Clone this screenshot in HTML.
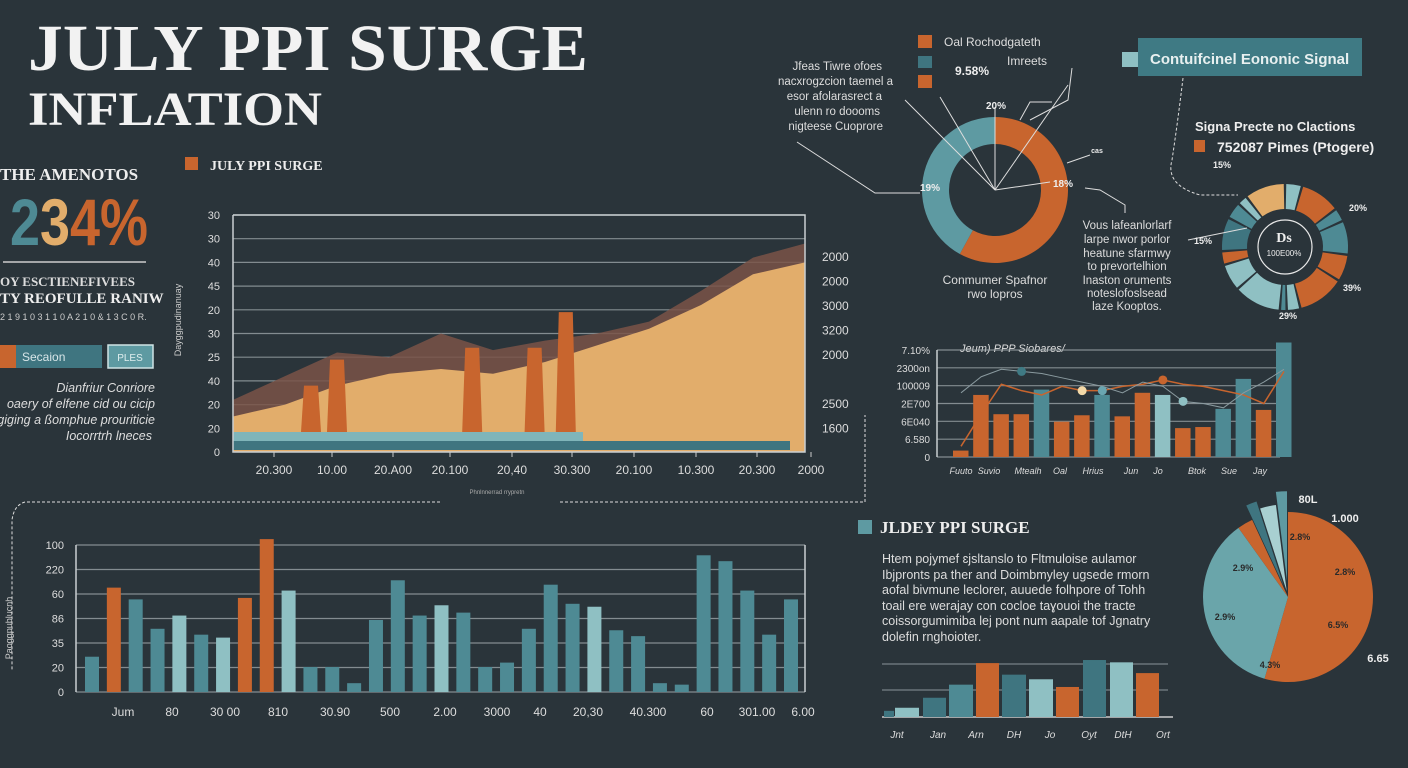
<!DOCTYPE html>
<html><head><meta charset="utf-8"><style>
html,body{margin:0;padding:0;background:#2a343a;width:1408px;height:768px;overflow:hidden}
svg{display:block}
.serif{font-family:"Liberation Serif",serif;font-weight:bold}
.sans{font-family:"Liberation Sans",sans-serif}
</style></head><body>
<svg id="s" width="1408" height="768" viewBox="0 0 1408 768" xmlns="http://www.w3.org/2000/svg">
<rect width="1408" height="768" fill="#2a343a"/>
<g>
<text x="28" y="70" class="serif" font-size="66" fill="#f2f2f2" textLength="560" lengthAdjust="spacingAndGlyphs">JULY PPI SURGE</text>
<text x="28" y="125" class="serif" font-size="48" fill="#f2f2f2" textLength="294" lengthAdjust="spacingAndGlyphs">INFLATION</text>
</g>
<g>
<text x="0" y="180" class="serif" font-size="17" fill="#eee">THE AMENOTOS</text>
<text x="10" y="245" class="sans" font-size="66" font-weight="bold" textLength="138" lengthAdjust="spacingAndGlyphs"><tspan fill="#4e8a94">2</tspan><tspan fill="#e2ad6b">3</tspan><tspan fill="#c8652e">4%</tspan></text>
<line x1="3" y1="262" x2="146" y2="262" stroke="#ccc" stroke-width="1.5"/>
<text x="0" y="286" class="serif" font-size="13" font-weight="normal" fill="#ddd">OY ESCTIENEFIVEES</text>
<text x="0" y="303" class="serif" font-size="15" fill="#eee">TY REOFULLE RANIW</text>
<text x="0" y="320" class="sans" font-size="9" fill="#ccc">2 1 9 1 0 3  1 1 0 A 2 1  0 & 1 3 C  0 R.</text>
<rect x="0" y="345" width="16" height="23" fill="#c8652e"/>
<rect x="16" y="345" width="86" height="23" fill="#3f7580"/>
<text x="22" y="361" class="sans" font-size="12" fill="#d8e6e8">Secaion</text>
<rect x="108" y="345" width="45" height="23" fill="#5e9aa2" stroke="#cfe3e4" stroke-width="1.5"/>
<text x="130" y="361" class="sans" font-size="10" fill="#dfeeee" text-anchor="middle">PLES</text>
<g class="sans" font-size="12.5" font-style="italic" fill="#ddd" text-anchor="end">
<text x="155" y="392">Dianfriur Conriore</text>
<text x="155" y="408">oaery of elfene cid ou cicip</text>
<text x="155" y="424">Agiging a ßomphue prouriticie</text>
<text x="152" y="440">Iocorrtrh lneces</text>
</g>
</g>
<g id="area">
<rect x="185" y="157" width="13" height="13" fill="#c8652e"/>
<text x="210" y="170" class="serif" font-size="14" fill="#eee">JULY PPI SURGE</text>
<text transform="translate(181,320) rotate(-90)" text-anchor="middle" class="sans" font-size="9" fill="#ccc">Dayggpudinanuay</text>
<text x="497" y="494" text-anchor="middle" class="sans" font-size="6" fill="#aaa">Phnlnnerrad rrypretn</text>
</g>
<g id="bars">
<text transform="translate(12,628) rotate(-90)" text-anchor="middle" class="sans" font-size="9" fill="#ccc">Paoggpublucnh</text>
</g>
<g fill="none" stroke="#ddd" stroke-width="1" stroke-dasharray="3,2">
<path d="M440,502 H25 Q14,505 12,520 V670"/>
<path d="M560,502 H865 V415"/>
<path d="M1183,78 Q1178,120 1172,160 Q1165,185 1200,195 H1238"/>
</g>
<g id="donut1">
<rect x="918" y="35" width="14" height="13" fill="#c8652e"/>
<text x="944" y="46" class="sans" font-size="12" fill="#ddd">Oal Rochodgateth</text>
<rect x="918" y="56" width="14" height="12" fill="#3f7580"/>
<text x="1007" y="65" class="sans" font-size="12" fill="#ddd">Imreets</text>
<rect x="918" y="75" width="14" height="13" fill="#c8652e"/>
<text x="955" y="75" class="sans" font-size="12" font-weight="bold" fill="#eee">9.58%</text>
<g class="sans" font-size="11.5" fill="#ddd" text-anchor="end">
<text x="882" y="70">Jfeas Tiwre ofoes</text>
<text x="893" y="85">nacxrogzcion taemel a</text>
<text x="882" y="100">esor afolarasrect a</text>
<text x="880" y="115">ulenn  ro doooms</text>
<text x="883" y="130">nigteese Cuoprore</text>
</g>
<text x="995" y="284" text-anchor="middle" class="sans" font-size="12" fill="#ddd">Conmumer Spafnor</text>
<text x="995" y="298" text-anchor="middle" class="sans" font-size="12" fill="#ddd">rwo lopros</text>
<g class="sans" font-size="11.5" fill="#ddd" text-anchor="middle">
<text x="1127" y="229">Vous lafeanlorlarf</text><text x="1127" y="243">larpe nwor porlor</text><text x="1127" y="257">heatune sfarmwy</text><text x="1127" y="270">to prevortelhion</text><text x="1127" y="284">Inaston oruments</text><text x="1127" y="297">noteslofoslsead</text><text x="1127" y="310">laze Kooptos.</text>
</g>
</g>
<g>
<rect x="1122" y="52" width="16" height="15" fill="#8fc0c3"/>
<rect x="1138" y="38" width="224" height="38" fill="#3f7a84"/>
<text x="1150" y="64" class="sans" font-size="15" font-weight="bold" fill="#e8f0f0">Contuifcinel Eononic Signal</text>
<text x="1195" y="131" class="sans" font-size="13" font-weight="bold" fill="#eee">Signa Precte no Clactions</text>
<rect x="1194" y="140" width="11" height="12" fill="#c8652e"/>
<text x="1217" y="152" class="sans" font-size="14" font-weight="bold" fill="#eee">752087 Pimes (Ptogere)</text>
</g>
<g id="donut2"></g>
<g id="bars2">
<text x="960" y="352" class="sans" font-size="11" font-style="italic" fill="#ddd">Jeum) PPP Siobares/</text>
</g>
<g>
<rect x="858" y="520" width="14" height="14" fill="#5e9aa2"/>
<text x="880" y="533" class="serif" font-size="17" fill="#eee">JLDEY PPI SURGE</text>
<g class="sans" font-size="12.5" fill="#ddd">
<text x="882" y="563">Htem pojymef ɛjsltanslo to Fltmuloise aulamor</text>
<text x="882" y="579">Ibjpronts pa ther and  Doimbmyley  ugsede rmorn</text>
<text x="882" y="594">aofal bivmune leclorer, auuede folhpore of Tohh</text>
<text x="882" y="610">toail ere werajay  con  cocloe  taɣouoi the tracte</text>
<text x="882" y="625">coissorgumimiba lej pont num aapale tof Jgnatry</text>
<text x="882" y="641">dolefin rnghoioter.</text>
</g>
</g>
<g id="bars3"></g>
<g id="pie"></g>
</svg>
<script>
// ===== Area chart data =====
const areaYTicks = ["30","30","40","45","20","30","25","40","20","20","0"];
const areaXLabels = ["20.300","10.00","20.A00","20.100","20,40","30.300","20.100","10.300","20.300","2000"];
const areaRightLabels = ["2000","2000","3000","3200","2000","","2500","1600"];
const sandValues = [15,20,28,33,35,33,38,45,52,62,75,80];
const brownValues = [22,32,42,40,50,43,47,50,55,68,82,88];
const spikeCategories = [1.5,2.0,4.6,5.8,6.4];
const spikeValues = [28,39,44,44,59];
// ===== Bottom bar chart data =====
const bottomBarValues = [24,71,63,43,52,39,37,64,104,69,17,17,6,49,76,52,59,54,17,20,43,73,60,58,42,38,6,5,93,89,69,39,63];
const bottomBarTypes = ["t","o","t","t","l","t","l","o","o","l","t","t","t","t","t","t","l","t","t","t","t","t","t","l","t","t","t","t","t","t","t","t","t"];
const bottomYTicks = ["0","20","35","86","60","220","100"];
const bottomXLabels = ["Jum","80","30 00","810","30.90","500","2.00","3000","40","20,30","40.300","60","301.00","6.00"];
// ===== Monthly bar chart data =====
const monthlyValues = [6,58,40,40,63,33,39,58,38,60,58,27,28,45,73,44,107];
const monthlyTypes = ["o","o","o","o","t","o","o","t","o","o","l","o","o","t","t","o","t"];
const monthlyLineA = [10,40,68,62,58,66,62,62,66,68,72,68,66,62,58,50,80];
const monthlyLineB = [60,75,82,80,78,74,70,66,60,70,66,52,50,46,60,70,82];
const monthlyYTicks = ["0","6.580","6E040","2E700","100009","2300on","7.10%"];
const monthlyXLabels = ["Fuuto","Suvio","Mtealh","Oal","Hrius","Jun","Jo","Btok","Sue","Jay"];
// ===== Small bar chart data =====
const smallValues = [8,12,25,42,70,55,49,39,74,71,57];
const smallTypes = ["d","l","d","t","o","d","l","o","d","l","o"];
const smallXLabels = ["Jnt","Jan","Arn","DH","Jo","Oyt","DtH","Ort"];
// ===== Donut / pie data =====
const donut1Values = [58,42];
const donut2Values = [5,12,4,10,8,14,4,2,14,8,4,10,5,3,12];
const donut2Types = ["l","o","t","t","o","o","l","t","l","l","o","d","t","l","s"];
const pieValues = [55,36,3,2,3,2];
const pieLabels = ["2.8%","2.9%","2.8%","2.9%","6.5%","4.3%"];

const NS="http://www.w3.org/2000/svg";
const C={o:"#c8652e",t:"#4e8a94",l:"#8fc0c3",d:"#3f7580",s:"#e2ad6b"};
function mk(parent,tag,attrs,txt){const e=document.createElementNS(NS,tag);for(const k in attrs)e.setAttribute(k,attrs[k]);if(txt!==undefined)e.textContent=txt;parent.appendChild(e);return e;}

// ---- Area chart ----
(function(){
const g=document.getElementById('area');
const x0=233,x1=805,y0=452,y1=215;
const ys=v=>y0-(y0-y1)*v/100;
const xs=i=>x0+(x1-x0)*i/(sandValues.length-1);
const gl=mk(g,'g',{});


areaYTicks.forEach((t,i)=>{const y=y1+(y0-y1)*i/(areaYTicks.length-1);
 if(i<areaYTicks.length-1)mk(gl,'line',{x1:x0,x2:x1,y1:y,y2:y,stroke:'#9aa3a6','stroke-width':1.2,opacity:0.8});
 const tx=mk(g,'text',{x:220,y:y+4,'text-anchor':'end','font-family':'Liberation Sans,sans-serif','font-size':11,fill:'#ddd'},t);
 
 });
const pts=(arr)=>arr.map((v,i)=>xs(i)+','+ys(v)).join(' ');
const brown=mk(g,'polygon',{points:x0+','+y0+' '+pts(brownValues)+' '+x1+','+y0,fill:'#7a5448',opacity:0.85});


const sand=mk(g,'polygon',{points:x0+','+y0+' '+pts(sandValues)+' '+x1+','+y0,fill:'#e2ad6b'});


const t1=mk(g,'rect',{x:x0,y:432,width:350,height:10,fill:'#7fb5ba'});


const t2=mk(g,'rect',{x:x0,y:441,width:557,height:9,fill:'#3f7580'});


spikeCategories.forEach((c,i)=>{const cx=xs(c),top=ys(spikeValues[i]);
 const p=mk(g,'polygon',{points:(cx-10)+',432 '+(cx-7)+','+top+' '+(cx+7)+','+top+' '+(cx+10)+',432',fill:'#c8652e'});
 
 });
mk(g,'polyline',{points:x0+','+y1+' '+x0+','+y0+' '+x1+','+y0+' '+x1+','+y1+' '+x0+','+y1,fill:'none',stroke:'#c9cfd1','stroke-width':1.5});
const lxs=[274,332,393,450,512,572,634,696,757,811];
areaXLabels.forEach((t,i)=>{mk(g,'line',{x1:lxs[i],x2:lxs[i],y1:y0,y2:y0+5,stroke:'#ccc'});
 const tx=mk(g,'text',{x:lxs[i],y:474,'text-anchor':'middle','font-family':'Liberation Sans,sans-serif','font-size':12,fill:'#ddd'},t);
 
 });
areaRightLabels.forEach((t,i)=>{if(!t)return;const tx=mk(g,'text',{x:822,y:261+i*24.5,'font-family':'Liberation Sans,sans-serif','font-size':12,fill:'#ddd'},t);
 
 });
})();

// ---- Bottom bar chart ----
(function(){
const g=document.getElementById('bars');
const x0=76,x1=805,y0=692,y1=545;
const ys=v=>y0-(y0-y1)*v/100;
bottomYTicks.forEach((t,i)=>{const y=y0-(y0-y1)*i/(bottomYTicks.length-1);
 mk(g,'line',{x1:x0,x2:x1,y1:y,y2:y,stroke:'#9aa3a6','stroke-width':1.2,opacity:0.8});
 const tx=mk(g,'text',{x:64,y:y+4,'text-anchor':'end','font-family':'Liberation Sans,sans-serif','font-size':11,fill:'#ddd'},t);
 
 });
mk(g,'line',{x1:x0,x2:x0,y1:y1,y2:y0,stroke:'#c9cfd1','stroke-width':1.5});
mk(g,'line',{x1:x1,x2:x1,y1:y1,y2:y0,stroke:'#c9cfd1','stroke-width':1.5});
const step=(784-85)/(bottomBarValues.length-1);
bottomBarValues.forEach((v,i)=>{const x=85+i*step;const top=ys(v);
 const r=mk(g,'rect',{x:x,y:top,width:14,height:y0-top,fill:C[bottomBarTypes[i]]});
 
 });
const lx=[123,172,225,278,335,390,445,497,540,588,648,707,757,803];
bottomXLabels.forEach((t,i)=>{const tx=mk(g,'text',{x:lx[i],y:716,'text-anchor':'middle','font-family':'Liberation Sans,sans-serif','font-size':12,fill:'#ddd'},t);
 
 });
})();

// ---- Monthly bar chart ----
(function(){
const g=document.getElementById('bars2');
const x0=937,x1=1280,y0=457,y1=350;
const ys=v=>y0-(y0-y1)*v/100;
monthlyYTicks.forEach((t,i)=>{const y=y0-(y0-y1)*i/(monthlyYTicks.length-1);
 mk(g,'line',{x1:x0,x2:x1,y1:y,y2:y,stroke:'#9aa3a6','stroke-width':1.2,opacity:0.8});
 const tx=mk(g,'text',{x:930,y:y+4,'text-anchor':'end','font-family':'Liberation Sans,sans-serif','font-size':10,fill:'#ddd'},t);
 
 });
mk(g,'line',{x1:x0,x2:x0,y1:y1,y2:y0,stroke:'#c9cfd1','stroke-width':1.5});
const step=(1276-953)/(monthlyValues.length-1);
const cx=i=>953+i*step+8;
monthlyValues.forEach((v,i)=>{const top=Math.max(ys(v),340);
 const r=mk(g,'rect',{x:953+i*step,y:top,width:15.5,height:y0-top,fill:C[monthlyTypes[i]]});
 
 });
const la=mk(g,'polyline',{points:monthlyLineA.map((v,i)=>cx(i)+','+ys(v)).join(' '),fill:'none',stroke:'#c8652e','stroke-width':1.5});


const lb=mk(g,'polyline',{points:monthlyLineB.map((v,i)=>cx(i)+','+ys(v)).join(' '),fill:'none',stroke:'#8a9a9f','stroke-width':1});


[[3,monthlyLineB,'#3f7a84'],[6,monthlyLineA,'#f3d9a8'],[7,monthlyLineA,'#6aa5b0'],[10,monthlyLineA,'#c8652e'],[11,monthlyLineB,'#8fc0c3']].forEach(d=>{
 const c=mk(g,'circle',{cx:cx(d[0]),cy:ys(d[1][d[0]]),r:4.5,fill:d[2]});
 
 });
const lx=[961,989,1028,1060,1093,1131,1158,1197,1229,1260];
monthlyXLabels.forEach((t,i)=>{const tx=mk(g,'text',{x:lx[i],y:474,'text-anchor':'middle','font-family':'Liberation Sans,sans-serif','font-size':9,'font-style':'italic',fill:'#ddd'},t);
 
 });
})();

// ---- Small bar chart ----
(function(){
const g=document.getElementById('bars3');
const y0=717,yTop=640;
const ys=v=>y0-(y0-yTop)*v/100;
mk(g,'line',{x1:882,x2:1168,y1:664,y2:664,stroke:'#8a9499'});
mk(g,'line',{x1:882,x2:1168,y1:690,y2:690,stroke:'#8a9499'});
mk(g,'line',{x1:882,x2:1173,y1:y0,y2:y0,stroke:'#ccc','stroke-width':1.5});
const xsb=[884,895,923,949,976,1002,1029,1056,1083,1110,1136];
const ws=[10,24,23,24,23,24,24,23,23,23,23];
smallValues.forEach((v,i)=>{const top=ys(v);
 const r=mk(g,'rect',{x:xsb[i],y:top,width:ws[i],height:y0-top,fill:C[smallTypes[i]]});
 
 });
const lx=[897,938,976,1014,1050,1089,1123,1163];
smallXLabels.forEach((t,i)=>{const tx=mk(g,'text',{x:lx[i],y:738,'text-anchor':'middle','font-family':'Liberation Sans,sans-serif','font-size':10,'font-style':'italic',fill:'#ddd'},t);
 
 });
})();

function arc(cx,cy,r0,r1,a0,a1){const p=(r,a)=>[cx+r*Math.sin(a),cy-r*Math.cos(a)];
 const L=(a1-a0)>Math.PI?1:0;const A=p(r1,a0),B=p(r1,a1),Cc=p(r0,a1),D=p(r0,a0);
 if(r0===0)return `M${cx},${cy} L${A} A${r1},${r1} 0 ${L} 1 ${B} Z`;
 return `M${A} A${r1},${r1} 0 ${L} 1 ${B} L${Cc} A${r0},${r0} 0 ${L} 0 ${D} Z`;}

// ---- Donut 1 ----
(function(){
const g=document.getElementById('donut1');
const tot=donut1Values.reduce((a,b)=>a+b,0);let a=0;const cols=['#c8652e','#5e9aa2'];
donut1Values.forEach((v,i)=>{const a1=a+v/tot*2*Math.PI;
 const p=mk(g,'path',{d:arc(995,190,46,73,a,a1),fill:cols[i]});
 
 a=a1;});
const lines=[[995,190,995,107],[995,190,940,97],[995,190,1068,85],[995,190,1050,182],[995,190,905,100]];
lines.forEach(l=>mk(g,'line',{x1:l[0],y1:l[1],x2:l[2],y2:l[3],stroke:'#ddd','stroke-width':1}));
mk(g,'polyline',{points:'797,142 875,193 920,193',fill:'none',stroke:'#ddd'});
mk(g,'polyline',{points:'1072,68 1068,100 1030,120',fill:'none',stroke:'#ddd'});
mk(g,'polyline',{points:'1052,102 1030,102 1020,120',fill:'none',stroke:'#ddd'});
mk(g,'polyline',{points:'1085,188 1100,190 1125,205 1125,213',fill:'none',stroke:'#ddd'});
mk(g,'polyline',{points:'1067,163 1090,155',fill:'none',stroke:'#ddd'});
[['19%',930,191],['18%',1063,187],['20%',996,109],['cas',1097,153]].forEach(d=>{
 const t=mk(g,'text',{x:d[1],y:d[2],'text-anchor':'middle','font-family':'Liberation Sans,sans-serif','font-size':d[0]=='cas'?7:10,'font-weight':'bold',fill:'#eee'},d[0]);
 
 });
})();

// ---- Donut 2 ----
(function(){
const g=document.getElementById('donut2');
const tot=donut2Values.reduce((a,b)=>a+b,0);let a=0;const gap=0.04;
donut2Values.forEach((v,i)=>{const a1=a+v/tot*2*Math.PI;
 const p=mk(g,'path',{d:arc(1285,247,38,63,a+gap/2,a1-gap/2),fill:C[donut2Types[i]]});
 
 a=a1;});
mk(g,'circle',{cx:1285,cy:247,r:27,fill:'none',stroke:'#e8e8e8','stroke-width':1.2});
mk(g,'text',{x:1284,y:242,'text-anchor':'middle','font-family':'Liberation Serif,serif','font-size':14,'font-weight':'bold',fill:'#eee'},'Ds');
mk(g,'text',{x:1284,y:256,'text-anchor':'middle','font-family':'Liberation Sans,sans-serif','font-size':8,fill:'#eee'},'100E00%');
mk(g,'polyline',{points:'1247,228 1188,240',fill:'none',stroke:'#ddd'});
[['15%',1222,168],['20%',1358,211],['15%',1203,244],['39%',1352,291],['29%',1288,319]].forEach(d=>{
 const t=mk(g,'text',{x:d[1],y:d[2],'text-anchor':'middle','font-family':'Liberation Sans,sans-serif','font-size':9,'font-weight':'bold',fill:'#eee'},d[0]);
 
 });
})();

// ---- Pie ----
(function(){
const g=document.getElementById('pie');
const tot=pieValues.reduce((a,b)=>a+b,0);let a=0;
const cols=['#c8652e','#6aa5aa','#c8652e','#3f7580','#a8d0d1','#5e9aa2'];
const ex=[0,0,0,12,6,16];
pieValues.forEach((v,i)=>{const a1=a+v/tot*2*Math.PI;const m=(a+a1)/2;
 const cx=1288+ex[i]*Math.sin(m),cy=597-ex[i]*Math.cos(m);
 const p=mk(g,'path',{d:arc(cx,cy,0,ex[i]?85+ex[i]*0.3:85,a,a1),fill:cols[i]});
 
 a=a1;});
[['2.8%',1300,540],['2.9%',1243,571],['2.8%',1345,575],['2.9%',1225,620],['6.5%',1338,628],['4.3%',1270,668]].forEach((d,i)=>{
 const t=mk(g,'text',{x:d[1],y:d[2],'text-anchor':'middle','font-family':'Liberation Sans,sans-serif','font-size':9,'font-weight':'bold',fill:'#2a2a2a'},pieLabels[i]);
 
 });
[['80L',1308,503],['1.000',1345,522],['6.65',1378,662]].forEach(d=>{
 const t=mk(g,'text',{x:d[1],y:d[2],'text-anchor':'middle','font-family':'Liberation Sans,sans-serif','font-size':11,'font-weight':'bold',fill:'#eee'},d[0]);
 
 });
})();
</script>
</body></html>
